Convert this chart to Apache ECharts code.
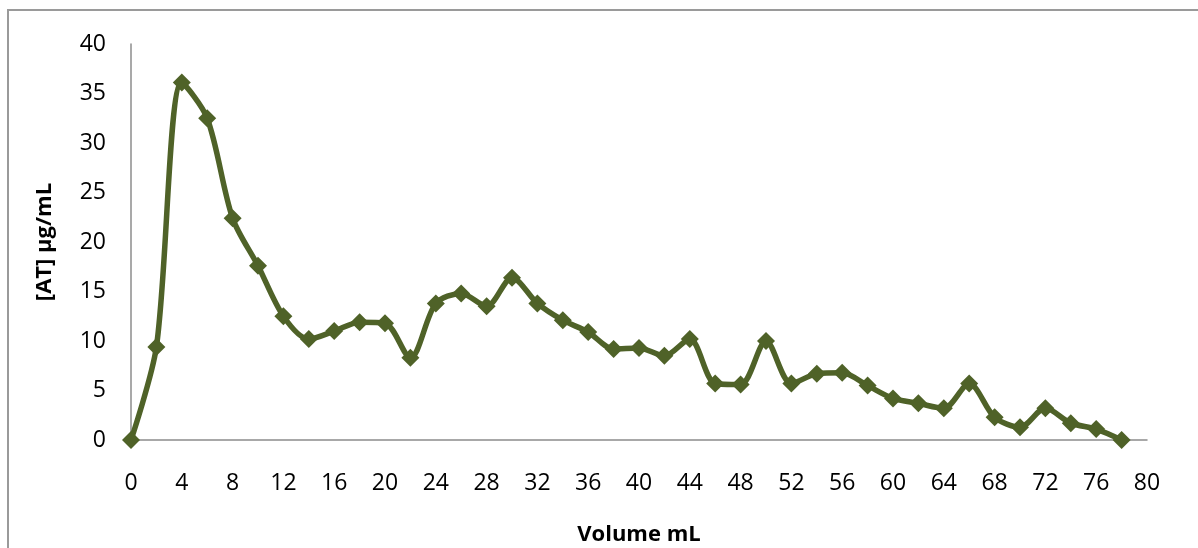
<!DOCTYPE html>
<html>
<head>
<meta charset="utf-8">
<script src="https://cdn.jsdelivr.net/npm/echarts@6/dist/echarts.min.js"></script>
<style>
    html, body { margin: 0; padding: 0; background: #fff; }
    #chart { width: 1198px; height: 548px; }
</style>
</head>
<body>
<div id="chart"></div>
<script>
    // elution volume (mL) and AT concentration (µg/mL)
    const volume = [0, 2, 4, 6, 8, 10, 12, 14, 16, 18, 20, 22, 24, 26, 28, 30, 32, 34, 36, 38,
                    40, 42, 44, 46, 48, 50, 52, 54, 56, 58, 60, 62, 64, 66, 68, 70, 72, 74, 76, 78];
    const conc = [0, 9.4, 36.1, 32.5, 22.4, 17.6, 12.5, 10.2, 11.0, 11.9, 11.8, 8.3, 13.8, 14.8, 13.5, 16.4, 13.8, 12.1, 10.9, 9.2,
                  9.3, 8.5, 10.2, 5.7, 5.6, 10.0, 5.7, 6.7, 6.8, 5.5, 4.2, 3.7, 3.2, 5.7, 2.3, 1.3, 3.2, 1.7, 1.1, 0];

    const green = '#4F6228';
    const font = '"Open Sans", "Liberation Sans", sans-serif';

    let points = volume.map((v, i) => [v, conc[i]]);

    let chart = echarts.init(document.getElementById('chart'));
    chart.setOption({
        backgroundColor: '#fff',
        animation: false,
        graphic: [{
            type: 'rect',
            shape: { x: 8, y: 10, width: 1300, height: 700 },
            style: { fill: 'none', stroke: '#9a9a9a', lineWidth: 2 }
        }],
        grid: {
            left: 131,
            right: 51,
            top: 44,
            bottom: 108,
            outerBoundsMode: 'none'
        },
        xAxis: {
            type: 'value',
            min: 0,
            max: 80,
            interval: 4,
            name: 'Volume mL',
            nameLocation: 'middle',
            nameGap: 84,
            nameTextStyle: { fontFamily: font, fontSize: 22, fontWeight: 'bold', color: '#000' },
            axisLine: { show: true, lineStyle: { color: '#8c8c8c', width: 1.5 } },
            axisTick: { show: false },
            splitLine: { show: false },
            axisLabel: { margin: 32, fontFamily: font, fontSize: 23, color: '#000' }
        },
        yAxis: {
            type: 'value',
            min: 0,
            max: 40,
            interval: 5,
            name: '[AT] µg/mL',
            nameLocation: 'middle',
            nameGap: 75,
            nameTextStyle: { fontFamily: font, fontSize: 22, fontWeight: 'bold', color: '#000' },
            axisLine: { show: true, lineStyle: { color: '#8c8c8c', width: 1.5 } },
            axisTick: { show: false },
            splitLine: { show: false },
            axisLabel: { margin: 25, fontFamily: font, fontSize: 23, color: '#000' }
        },
        series: [{
            name: 'AT',
            type: 'line',
            data: points,
            smooth: 0.3,
            clip: false,
            symbol: 'diamond',
            symbolSize: 18,
            showAllSymbol: true,
            itemStyle: { color: green },
            lineStyle: { color: green, width: 5.5 }
        }]
    });
</script>
</body>
</html>
